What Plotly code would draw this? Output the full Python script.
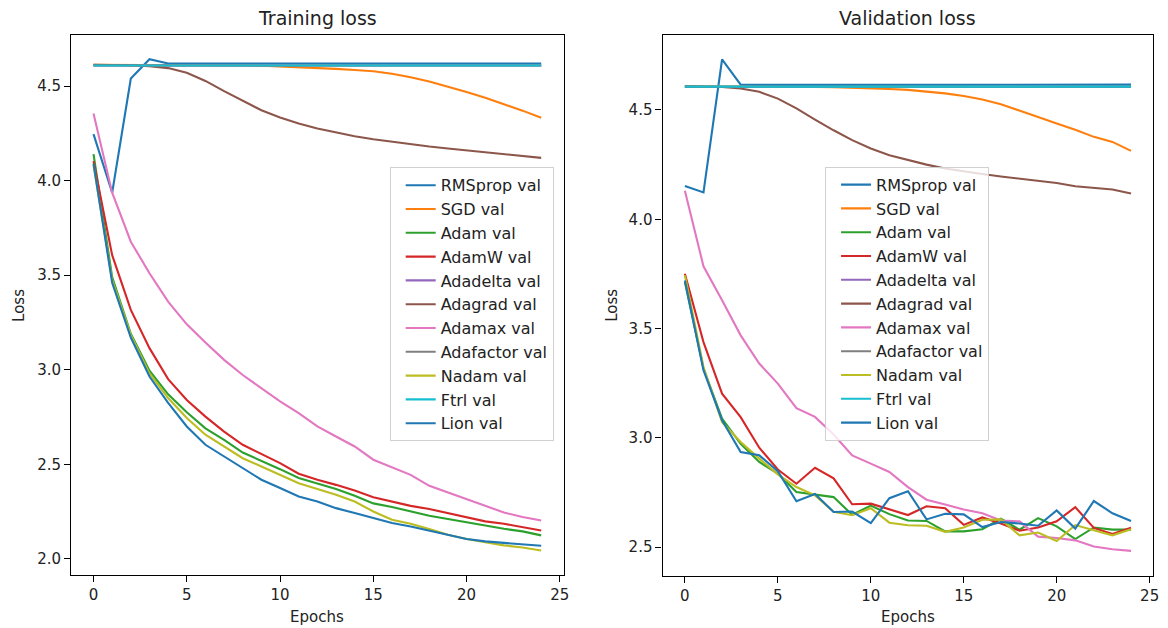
import plotly.graph_objects as go

epochs = list(range(25))
names = ["RMSprop", "SGD", "Adam", "AdamW", "Adadelta", "Adagrad",
         "Adamax", "Adafactor", "Nadam", "Ftrl", "Lion"]
colors = ["#1f77b4", "#ff7f0e", "#2ca02c", "#d62728", "#9467bd", "#8c564b",
          "#e377c2", "#7f7f7f", "#bcbd22", "#17becf", "#1f77b4"]

# ---- Training loss ----
rmsprop_train = [4.246, 3.936, 4.540, 4.642, 4.619, 4.619, 4.619, 4.619, 4.619, 4.619,
                 4.619, 4.619, 4.619, 4.619, 4.619, 4.619, 4.619, 4.619, 4.619, 4.619,
                 4.619, 4.619, 4.619, 4.619, 4.619]
sgd_train = [4.613, 4.613, 4.612, 4.612, 4.612, 4.611, 4.611, 4.610, 4.609, 4.607,
             4.604, 4.600, 4.596, 4.591, 4.585, 4.578, 4.565, 4.547, 4.524, 4.498,
             4.469, 4.438, 4.405, 4.370, 4.332]
adam_train = [4.140, 3.490, 3.190, 2.995, 2.870, 2.775, 2.690, 2.629, 2.562, 2.520,
              2.474, 2.427, 2.397, 2.369, 2.333, 2.293, 2.274, 2.250, 2.228, 2.210,
              2.192, 2.175, 2.159, 2.145, 2.124]
adamw_train = [4.103, 3.606, 3.316, 3.114, 2.950, 2.840, 2.752, 2.673, 2.603, 2.555,
               2.506, 2.450, 2.418, 2.391, 2.361, 2.325, 2.303, 2.280, 2.263, 2.242,
               2.221, 2.198, 2.185, 2.168, 2.150]
adadelta_train = [4.609, 4.609, 4.609, 4.609, 4.609, 4.609, 4.609, 4.609, 4.609, 4.609,
                  4.609, 4.609, 4.609, 4.609, 4.609, 4.609, 4.609, 4.609, 4.609, 4.609,
                  4.609, 4.609, 4.609, 4.609, 4.609]
adagrad_train = [4.613, 4.612, 4.610, 4.605, 4.595, 4.570, 4.527, 4.473, 4.422, 4.372,
                 4.334, 4.302, 4.276, 4.255, 4.235, 4.219, 4.205, 4.192, 4.180, 4.170,
                 4.160, 4.150, 4.140, 4.130, 4.120]
adamax_train = [4.355, 3.936, 3.677, 3.510, 3.360, 3.240, 3.144, 3.052, 2.972, 2.902,
                2.832, 2.770, 2.700, 2.647, 2.594, 2.524, 2.485, 2.444, 2.386, 2.351,
                2.312, 2.277, 2.245, 2.221, 2.203]
adafactor_train = [4.609, 4.609, 4.609, 4.609, 4.609, 4.609, 4.609, 4.609, 4.609, 4.609,
                   4.609, 4.609, 4.609, 4.609, 4.609, 4.609, 4.609, 4.609, 4.609, 4.609,
                   4.609, 4.609, 4.609, 4.609, 4.609]
nadam_train = [4.082, 3.474, 3.184, 2.980, 2.850, 2.745, 2.656, 2.594, 2.532, 2.488,
               2.444, 2.400, 2.369, 2.339, 2.303, 2.250, 2.207, 2.185, 2.157, 2.127,
               2.105, 2.089, 2.071, 2.060, 2.044]
ftrl_train = [4.609, 4.609, 4.609, 4.609, 4.609, 4.609, 4.609, 4.609, 4.609, 4.609,
              4.609, 4.609, 4.609, 4.609, 4.609, 4.609, 4.609, 4.609, 4.609, 4.609,
              4.609, 4.609, 4.609, 4.609, 4.609]
lion_train = [4.090, 3.460, 3.170, 2.964, 2.825, 2.700, 2.603, 2.541, 2.480, 2.418,
              2.374, 2.330, 2.303, 2.268, 2.242, 2.217, 2.189, 2.171, 2.150, 2.127,
              2.105, 2.092, 2.083, 2.074, 2.069]

# ---- Validation loss ----
rmsprop_val = [4.152, 4.123, 4.731, 4.616, 4.615, 4.615, 4.615, 4.615, 4.616, 4.615,
               4.615, 4.615, 4.615, 4.615, 4.615, 4.615, 4.615, 4.615, 4.615, 4.615,
               4.615, 4.615, 4.615, 4.616, 4.616]
sgd_val = [4.608, 4.608, 4.608, 4.608, 4.607, 4.607, 4.606, 4.605, 4.604, 4.602,
           4.599, 4.596, 4.592, 4.585, 4.576, 4.564, 4.548, 4.526, 4.498, 4.468,
           4.438, 4.410, 4.377, 4.354, 4.313]
adam_val = [3.713, 3.317, 3.088, 2.973, 2.890, 2.836, 2.752, 2.741, 2.729, 2.648,
            2.690, 2.651, 2.622, 2.620, 2.572, 2.572, 2.582, 2.630, 2.580, 2.633,
            2.595, 2.537, 2.590, 2.580, 2.580]
adamw_val = [3.751, 3.438, 3.202, 3.095, 2.955, 2.855, 2.790, 2.863, 2.815, 2.696,
             2.699, 2.672, 2.647, 2.687, 2.678, 2.602, 2.636, 2.608, 2.575, 2.590,
             2.618, 2.683, 2.588, 2.560, 2.589]
adadelta_val = [4.605, 4.605, 4.605, 4.605, 4.605, 4.605, 4.605, 4.605, 4.605, 4.605,
                4.605, 4.605, 4.605, 4.605, 4.605, 4.605, 4.605, 4.605, 4.605, 4.605,
                4.605, 4.605, 4.605, 4.605, 4.605]
adagrad_val = [4.608, 4.607, 4.605, 4.598, 4.583, 4.552, 4.507, 4.456, 4.407, 4.362,
               4.324, 4.293, 4.270, 4.250, 4.232, 4.218, 4.207, 4.196, 4.186, 4.177,
               4.166, 4.151, 4.144, 4.136, 4.118]
adamax_val = [4.130, 3.785, 3.629, 3.469, 3.340, 3.248, 3.136, 3.096, 3.015, 2.920,
              2.882, 2.844, 2.775, 2.717, 2.695, 2.672, 2.655, 2.622, 2.618, 2.548,
              2.542, 2.531, 2.503, 2.490, 2.483]
adafactor_val = [4.607, 4.607, 4.607, 4.607, 4.607, 4.607, 4.607, 4.607, 4.607, 4.607,
                 4.607, 4.607, 4.607, 4.607, 4.607, 4.607, 4.607, 4.607, 4.607, 4.607,
                 4.607, 4.607, 4.607, 4.607, 4.607]
nadam_val = [3.744, 3.324, 3.072, 2.981, 2.905, 2.833, 2.775, 2.737, 2.662, 2.646,
             2.678, 2.612, 2.600, 2.598, 2.570, 2.590, 2.625, 2.627, 2.554, 2.567,
             2.528, 2.601, 2.577, 2.554, 2.582]
ftrl_val = [4.607, 4.607, 4.607, 4.607, 4.607, 4.607, 4.607, 4.607, 4.607, 4.607,
            4.607, 4.607, 4.607, 4.607, 4.607, 4.607, 4.607, 4.607, 4.607, 4.607,
            4.607, 4.607, 4.607, 4.607, 4.607]
lion_val = [3.720, 3.310, 3.080, 2.935, 2.920, 2.848, 2.710, 2.743, 2.661, 2.663,
            2.610, 2.724, 2.756, 2.627, 2.653, 2.650, 2.592, 2.615, 2.608, 2.598,
            2.668, 2.585, 2.711, 2.655, 2.620]

train_series = [rmsprop_train, sgd_train, adam_train, adamw_train, adadelta_train,
                adagrad_train, adamax_train, adafactor_train, nadam_train,
                ftrl_train, lion_train]
val_series = [rmsprop_val, sgd_val, adam_val, adamw_val, adadelta_val, adagrad_val,
              adamax_val, adafactor_val, nadam_val, ftrl_val, lion_val]

W, H = 1168, 628
FONT = "DejaVu Sans"
fig = go.Figure()

for name, col, ys in zip(names, colors, train_series):
    fig.add_trace(go.Scatter(x=epochs, y=ys, mode="lines", name=f"{name} val",
                             line=dict(color=col, width=2.1),
                             xaxis="x", yaxis="y", legend="legend"))
for name, col, ys in zip(names, colors, val_series):
    fig.add_trace(go.Scatter(x=epochs, y=ys, mode="lines", name=f"{name} val",
                             line=dict(color=col, width=2.1),
                             xaxis="x2", yaxis="y2", legend="legend2"))

def px_x(p):
    return p / W

def px_y(p):
    return 1 - p / H

axis_common = dict(showline=True, linecolor="black", linewidth=1.2, mirror=True,
                   ticks="outside", ticklen=6, tickwidth=1.2, tickcolor="black",
                   showgrid=False, zeroline=False,
                   tickfont=dict(family=FONT, size=15, color="#222222"))

legend_common = dict(xanchor="left", yanchor="top", indentation=10,
                     bgcolor="rgba(255,255,255,0.8)",
                     bordercolor="rgba(204,204,204,0.9)", borderwidth=1,
                     font=dict(family=FONT, size=16, color="#222222"))

fig.update_layout(
    width=W, height=H,
    margin=dict(l=0, r=0, t=0, b=0),
    paper_bgcolor="white", plot_bgcolor="white",
    font=dict(family=FONT, color="#222222"),
    xaxis=dict(domain=[px_x(71.5), px_x(566.5)], range=[-1.2, 25.2],
               tickvals=[0, 5, 10, 15, 20, 25], anchor="y", **axis_common),
    yaxis=dict(domain=[px_y(574.5), px_y(35)], range=[1.917, 4.770], tick0=0,
               dtick=0.5, tickformat=".1f", anchor="x", **axis_common),
    xaxis2=dict(domain=[px_x(666), px_x(1159.3)], range=[-1.2, 25.2],
                tickvals=[0, 5, 10, 15, 20, 25], anchor="y2", **axis_common),
    yaxis2=dict(domain=[px_y(576), px_y(35)], range=[2.368, 4.843], tick0=0,
                dtick=0.5, tickformat=".1f", anchor="x2", **axis_common),
    legend=dict(x=px_x(391.7), y=px_y(167.3), **legend_common),
    legend2=dict(x=px_x(829.3), y=px_y(166.7), **legend_common),
    showlegend=True,
)

annots = [
    dict(text="Training loss", x=px_x(319), y=px_y(18), size=19, angle=0),
    dict(text="Validation loss", x=px_x(912.6), y=px_y(18), size=19, angle=0),
    dict(text="Epochs", x=px_x(319), y=px_y(617), size=15, angle=0),
    dict(text="Epochs", x=px_x(912.6), y=px_y(617), size=15, angle=0),
    dict(text="Loss", x=px_x(19), y=px_y(305), size=15, angle=-90),
    dict(text="Loss", x=px_x(615), y=px_y(305), size=15, angle=-90),
]
for a in annots:
    fig.add_annotation(text=a["text"], x=a["x"], y=a["y"], xref="paper", yref="paper",
                       xanchor="center", yanchor="middle", showarrow=False,
                       textangle=a["angle"],
                       font=dict(family=FONT, size=a["size"], color="#222222"))

fig.write_html("out.html")
